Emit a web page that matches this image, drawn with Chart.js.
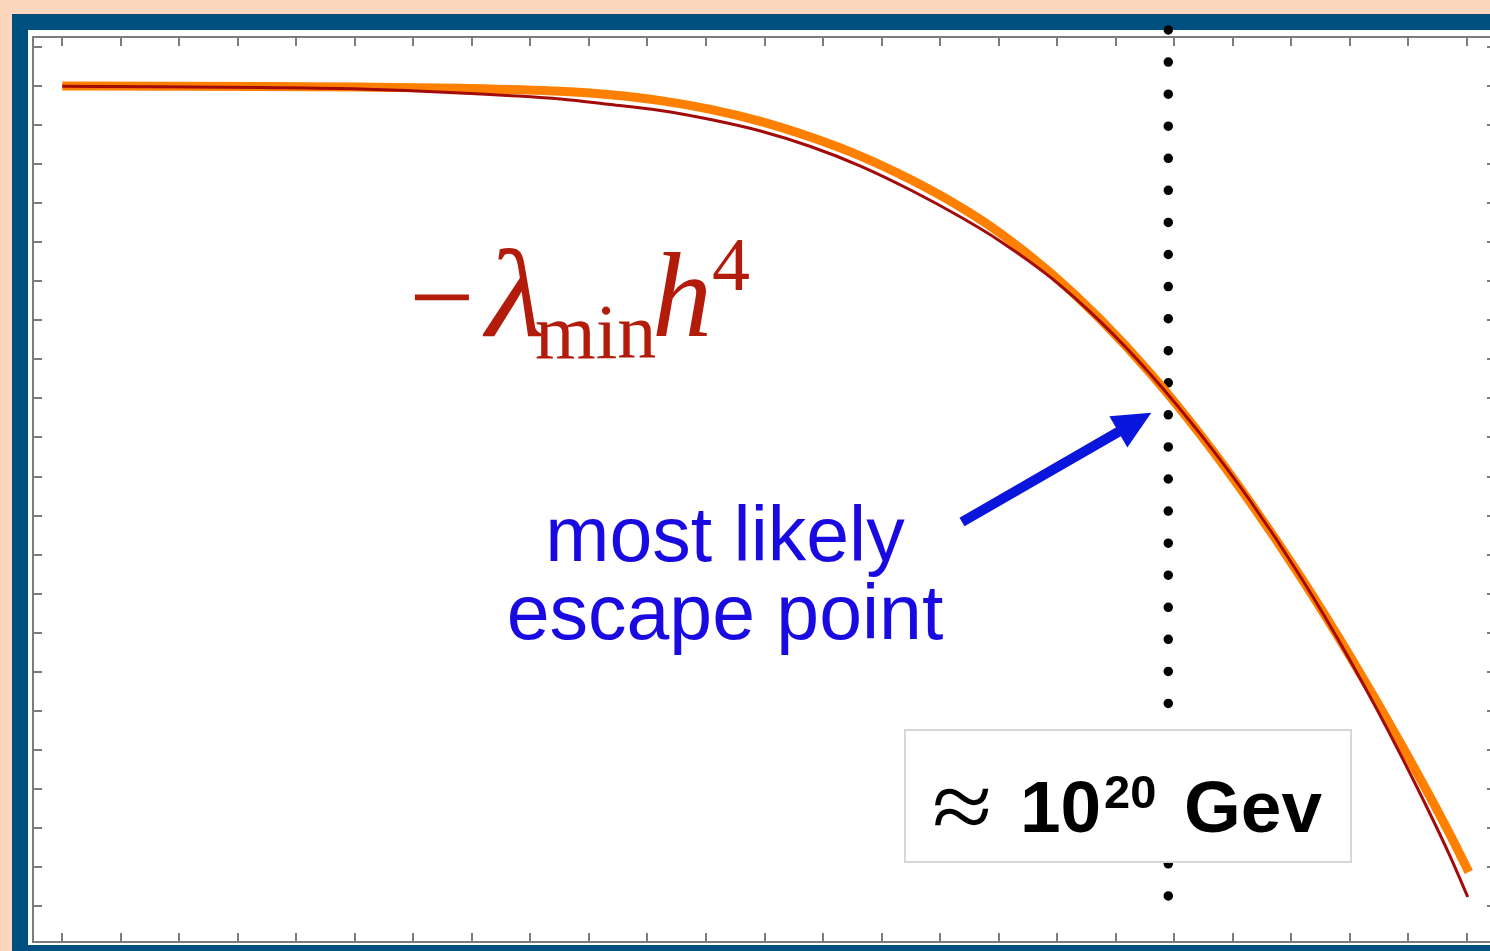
<!DOCTYPE html>
<html>
<head>
<meta charset="utf-8">
<script src="https://cdn.jsdelivr.net/npm/chart.js@4.4.1/dist/chart.umd.min.js"></script>
<style>
  html, body { margin: 0; padding: 0; width: 1490px; height: 951px; overflow: hidden; background: #fdd7bd; }
  #frame { position: absolute; left: 12px; top: 14px; width: 1600px; height: 1000px; background: #00507f; }
  #paper { position: absolute; left: 28px; top: 30px; width: 1600px; height: 915px; background: #ffffff; }
  #wrap { position: absolute; left: 0; top: 0; width: 1500px; height: 951px; }
</style>
</head>
<body>
<div id="frame"></div>
<div id="paper"></div>
<div id="wrap"><canvas id="potential"></canvas></div>
<script>
// Tick positions of the frame (no tick labels are shown)
const xTickValues = [0, 1, 2, 3, 4, 5, 6, 7, 8, 9, 10, 11, 12, 13, 14, 15, 16, 17, 18, 19, 20, 21, 22, 23, 24];
const yTickValues = [1, 0, -1, -2, -3, -4, -5, -6, -7, -8, -9, -10, -11, -12, -13, -14, -15, -16, -17, -18, -19, -20, -21];

// Full effective potential (orange)
const fullH = [0, 1.675, 3.385, 5.094, 6.803, 8.513, 9.368, 10.222, 11.077, 11.932, 12.786, 13.641, 14.496, 15.350, 16.034, 16.889, 17.744, 18.598, 19.453, 20.308, 21.162, 22.017, 22.872, 23.726, 24.034];
const fullV = [0, -0.003, -0.010, -0.026, -0.059, -0.136, -0.225, -0.374, -0.597, -0.904, -1.306, -1.793, -2.394, -3.099, -3.772, -4.784, -5.982, -7.365, -8.937, -10.679, -12.574, -14.630, -16.837, -19.201, -20.128];

// Quartic approximation -lambda_min h^4 (dark red)
const quarticH = [0, 1.675, 3.385, 5.094, 6.803, 8.513, 9.368, 10.222, 11.077, 11.932, 12.786, 13.641, 14.496, 15.350, 16.034, 16.889, 17.744, 18.598, 19.453, 20.308, 21.162, 22.017, 22.872, 23.726, 24.017];
const quarticV = [-0.008, -0.020, -0.041, -0.077, -0.179, -0.333, -0.474, -0.627, -0.858, -1.152, -1.549, -2.049, -2.663, -3.355, -3.979, -4.901, -6.041, -7.385, -8.922, -10.640, -12.574, -14.738, -17.132, -19.757, -20.768];

// Most likely escape point, the extent of its marker line, and where the arrow points
const escapeH = 18.9;
const escapeSpan = [1.434, -21.56];
const arrowTipV = -8.37;

const pts = (hs, vs) => hs.map((h, i) => ({ x: h, y: vs[i] }));

const frameColor = '#7c7c7c';

const framePlugin = {
  id: 'mathFrame',
  beforeDatasetsDraw(chart) {
    const { ctx, chartArea: a, scales } = chart;
    const tl = 9;
    ctx.save();
    ctx.strokeStyle = frameColor;
    ctx.lineWidth = 2;
    ctx.strokeRect(a.left, a.top, a.right - a.left, a.bottom - a.top);
    ctx.beginPath();
    xTickValues.forEach(v => {
      const px = Math.round(scales.x.getPixelForValue(v));
      ctx.moveTo(px, a.top); ctx.lineTo(px, a.top + tl);
      ctx.moveTo(px, a.bottom); ctx.lineTo(px, a.bottom - tl);
    });
    yTickValues.forEach(v => {
      const py = Math.round(scales.y.getPixelForValue(v));
      ctx.moveTo(a.left, py); ctx.lineTo(a.left + tl, py);
      ctx.moveTo(a.right, py); ctx.lineTo(a.right - tl, py);
    });
    ctx.stroke();
    ctx.restore();
  }
};

const notesPlugin = {
  id: 'notes',
  afterDatasetsDraw(chart) {
    const { ctx, scales } = chart;
    ctx.save();
    ctx.textBaseline = 'alphabetic';

    // -lambda_min h^4
    ctx.fillStyle = '#b31b0b';
    ctx.textAlign = 'left';
    ctx.font = '116px "Liberation Serif"';
    ctx.fillText('\u2212', 409, 336);
    ctx.save();
    ctx.translate(486, 336);
    ctx.scale(1.1, 1);
    ctx.font = 'italic 124px "Liberation Serif"';
    ctx.fillText('\u03BB', 0, 0);
    ctx.restore();
    ctx.font = '78px "Liberation Serif"';
    ctx.fillText('min', 535, 358);
    ctx.font = 'italic 120px "Liberation Serif"';
    ctx.fillText('h', 652, 336);
    ctx.font = '76px "Liberation Serif"';
    ctx.fillText('4', 712, 290);

    // caption
    ctx.fillStyle = '#1a0ae2';
    ctx.textAlign = 'center';
    ctx.font = '77px "Liberation Sans"';
    ctx.fillText('most likely', 725, 561);
    ctx.fillText('escape point', 725, 639);

    // arrow pointing at the escape point on the curve
    const tipX = scales.x.getPixelForValue(escapeH) - 17;
    const tipY = scales.y.getPixelForValue(arrowTipV);
    const tailX = 962, tailY = 522;
    const dx = tipX - tailX, dy = tipY - tailY, len = Math.hypot(dx, dy);
    const ux = dx / len, uy = dy / len, nx = -uy, ny = ux;
    const headLen = 38, headHalf = 18;
    const bx = tipX - ux * headLen, by = tipY - uy * headLen;
    ctx.strokeStyle = '#0a16dc';
    ctx.fillStyle = '#0a16dc';
    ctx.lineWidth = 10;
    ctx.lineCap = 'butt';
    ctx.beginPath();
    ctx.moveTo(tailX, tailY);
    ctx.lineTo(bx + ux * 2, by + uy * 2);
    ctx.stroke();
    ctx.beginPath();
    ctx.moveTo(tipX, tipY);
    ctx.lineTo(bx + nx * headHalf, by + ny * headHalf);
    ctx.lineTo(bx - nx * headHalf, by - ny * headHalf);
    ctx.closePath();
    ctx.fill();

    // scale box
    ctx.fillStyle = '#ffffff';
    ctx.fillRect(904, 729, 448, 134);
    ctx.strokeStyle = '#d6d6d6';
    ctx.lineWidth = 2;
    ctx.strokeRect(905, 730, 446, 132);
    ctx.fillStyle = '#000000';
    ctx.textAlign = 'left';
    ctx.save();
    ctx.translate(932, 840);
    ctx.scale(1.1, 1);
    ctx.font = '100px "Liberation Serif"';
    ctx.fillText('\u2248', 0, 0);
    ctx.restore();
    ctx.font = 'bold 73px "Liberation Sans"';
    ctx.fillText('10', 1020, 832);
    ctx.font = 'bold 47px "Liberation Sans"';
    ctx.fillText('20', 1104, 808);
    ctx.font = 'bold 73px "Liberation Sans"';
    ctx.fillText('Gev', 1184, 832);
    ctx.restore();
  }
};

new Chart(document.getElementById('potential'), {
  type: 'line',
  data: {
    datasets: [
      {
        label: '-lambda_min h^4',
        data: pts(quarticH, quarticV),
        borderColor: '#a30a0a',
        borderWidth: 3,
        pointRadius: 0,
        cubicInterpolationMode: 'monotone',
        order: 0
      },
      {
        label: 'V(h)',
        data: pts(fullH, fullV),
        borderColor: '#ff8000',
        borderWidth: 9,
        pointRadius: 0,
        cubicInterpolationMode: 'monotone',
        order: 1
      },
      {
        label: 'escape point',
        data: pts([escapeH, escapeH], escapeSpan),
        borderColor: '#000000',
        borderWidth: 9.5,
        borderDash: [0, 32.07],
        borderCapStyle: 'round',
        pointRadius: 0,
        clip: false,
        order: 2
      }
    ]
  },
  options: {
    responsive: true,
    maintainAspectRatio: false,
    animation: false,
    events: [],
    layout: { padding: { left: 33, top: 37, right: 4, bottom: 9 } },
    plugins: { legend: { display: false }, tooltip: { enabled: false } },
    scales: {
      x: { type: 'linear', display: false, min: -0.5, max: 24.5 },
      y: { type: 'linear', display: false, min: -21.92, max: 1.255 }
    }
  },
  plugins: [framePlugin, notesPlugin]
});
</script>
</body>
</html>
